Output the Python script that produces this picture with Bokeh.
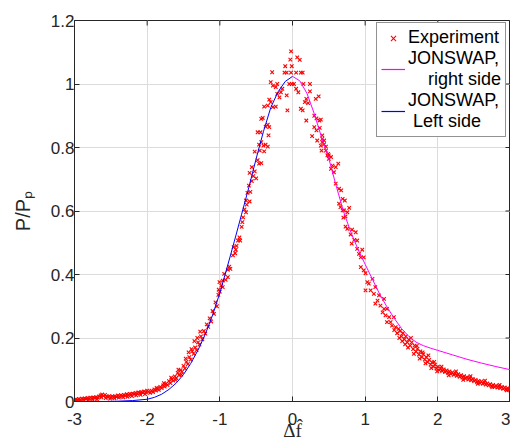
from bokeh.plotting import figure
from bokeh.models import FixedTicker, Legend, LegendItem, ColumnDataSource, Range1d
from bokeh.embed import file_html
from bokeh.resources import INLINE

# ---------------- data ----------------
x_ticks = [-3, -2, -1, 0, 1, 2, 3]
x_tick_labels = ["-3", "-2", "-1", "0", "1", "2", "3"]
y_ticks = [0, 0.2, 0.4, 0.6, 0.8, 1, 1.2]
y_tick_labels = ["0", "0.2", "0.4", "0.6", "0.8", "1", "1.2"]

# JONSWAP fit, left side (blue)
left_x = [-3.0, -2.8, -2.6, -2.4, -2.2, -2.0, -1.9, -1.8, -1.7, -1.6, -1.5, -1.4, -1.3,
          -1.2, -1.1, -1.0, -0.9, -0.8, -0.7, -0.6, -0.5, -0.4, -0.3, -0.2, -0.1, 0.0]
left_y = [0.000, 0.000, 0.000, 0.001, 0.003, 0.007, 0.013, 0.023, 0.038, 0.058, 0.085, 0.120, 0.162,
          0.212, 0.272, 0.342, 0.422, 0.505, 0.590, 0.675, 0.765, 0.850, 0.925, 0.975, 1.008, 1.024]

# JONSWAP fit, right side (magenta)
right_x = [0.0, 0.1, 0.2, 0.3, 0.4, 0.5, 0.6, 0.7, 0.8, 0.9, 1.0, 1.1, 1.2, 1.3, 1.4, 1.5,
           1.6, 1.7, 1.8, 1.9, 2.0, 2.2, 2.4, 2.6, 2.8, 3.0]
right_y = [1.024, 1.010, 0.970, 0.906, 0.832, 0.765, 0.680, 0.600, 0.535, 0.480, 0.432, 0.385,
           0.338, 0.298, 0.262, 0.230, 0.205, 0.187, 0.176, 0.168, 0.161, 0.147, 0.133, 0.121,
           0.110, 0.100]

# Experiment (x, P/Pp) pairs, by region
exp_left_tail = [
    (-3.00, 0.004), (-2.98, 0.007), (-2.96, 0.005), (-2.94, 0.008), (-2.92, 0.006), (-2.90, 0.009),
    (-2.88, 0.007), (-2.86, 0.010), (-2.84, 0.008), (-2.82, 0.011), (-2.80, 0.009), (-2.78, 0.012),
    (-2.76, 0.010), (-2.74, 0.013), (-2.72, 0.011), (-2.70, 0.014), (-2.68, 0.012), (-2.66, 0.016),
    (-2.64, 0.019), (-2.62, 0.022), (-2.60, 0.018), (-2.58, 0.021), (-2.56, 0.016), (-2.54, 0.014),
    (-2.52, 0.017), (-2.50, 0.013), (-2.48, 0.016), (-2.46, 0.014), (-2.44, 0.017), (-2.42, 0.015),
    (-2.40, 0.019), (-2.38, 0.016), (-2.36, 0.020), (-2.34, 0.018), (-2.32, 0.021), (-2.30, 0.019),
    (-2.28, 0.023), (-2.26, 0.020), (-2.24, 0.024), (-2.22, 0.022), (-2.20, 0.025), (-2.18, 0.023),
    (-2.16, 0.027), (-2.14, 0.025), (-2.12, 0.029), (-2.10, 0.026), (-2.08, 0.030), (-2.06, 0.028),
    (-2.04, 0.032), (-2.02, 0.029), (-2.00, 0.034),
    (-2.99, 0.002), (-2.93, 0.003), (-2.87, 0.004), (-2.81, 0.005), (-2.75, 0.006), (-2.69, 0.007),
    (-2.63, 0.013), (-2.57, 0.011), (-2.51, 0.009), (-2.45, 0.010), (-2.39, 0.012), (-2.33, 0.013),
    (-2.27, 0.015), (-2.21, 0.017), (-2.15, 0.019), (-2.09, 0.021), (-2.03, 0.023),
]
exp_left_rise = [
    (-1.98, 0.031), (-1.96, 0.027), (-1.94, 0.034), (-1.92, 0.030), (-1.90, 0.038), (-1.88, 0.034),
    (-1.86, 0.041), (-1.84, 0.037), (-1.82, 0.046), (-1.80, 0.042), (-1.78, 0.051), (-1.76, 0.047),
    (-1.74, 0.056), (-1.72, 0.052), (-1.70, 0.064), (-1.68, 0.058), (-1.66, 0.070), (-1.64, 0.066),
    (-1.62, 0.079), (-1.60, 0.074), (-1.58, 0.090), (-1.56, 0.083), (-1.54, 0.099), (-1.52, 0.094),
    (-1.50, 0.112), (-1.48, 0.104), (-1.46, 0.125), (-1.44, 0.118), (-1.42, 0.140), (-1.40, 0.132),
    (-1.38, 0.158), (-1.36, 0.150), (-1.34, 0.170), (-1.32, 0.162), (-1.30, 0.186), (-1.28, 0.179),
    (-1.26, 0.205), (-1.24, 0.196), (-1.22, 0.222), (-1.20, 0.214), (-1.18, 0.243), (-1.16, 0.235),
    (-1.14, 0.262), (-1.12, 0.252), (-1.10, 0.285), (-1.08, 0.276), (-1.06, 0.312), (-1.04, 0.300),
    (-1.02, 0.336), (-1.00, 0.346),
    (-1.47, 0.135), (-1.43, 0.155), (-1.39, 0.165), (-1.35, 0.190), (-1.31, 0.200), (-1.27, 0.220),
    (-1.57, 0.100), (-1.67, 0.075), (-1.77, 0.058), (-1.87, 0.043), (-1.53, 0.085), (-1.61, 0.068),
]
exp_left_branch = [
    (-1.015, 0.352), (-1.005, 0.376), (-0.98, 0.365), (-0.96, 0.360), (-0.96, 0.381), (-0.94, 0.402),
    (-0.92, 0.383), (-0.89, 0.392), (-0.89, 0.415), (-0.87, 0.425), (-0.855, 0.418), (-0.82, 0.460),
    (-0.81, 0.486), (-0.79, 0.467), (-0.78, 0.478), (-0.75, 0.507), (-0.73, 0.517), (-0.72, 0.507),
    (-0.69, 0.565), (-0.66, 0.605), (-0.64, 0.596), (-0.64, 0.633), (-0.62, 0.657), (-0.59, 0.630),
    (-0.60, 0.680), (-0.56, 0.694), (-0.50, 0.703), (-0.59, 0.720), (-0.52, 0.725), (-0.56, 0.738),
    (-0.46, 0.749), (-0.43, 0.751), (-0.52, 0.787), (-0.39, 0.788), (-0.37, 0.809), (-0.46, 0.809),
    (-0.40, 0.806), (-0.43, 0.817), (-0.34, 0.803),
    (-0.77, 0.490), (-0.70, 0.550), (-0.68, 0.580), (-0.63, 0.620), (-0.58, 0.660), (-0.54, 0.710),
    (-0.48, 0.760), (-0.45, 0.790),
]
exp_peak = [
    (-0.48, 0.848), (-0.44, 0.848), (-0.33, 0.838), (-0.41, 0.893), (-0.43, 0.890), (-0.34, 0.872),
    (-0.37, 0.866), (-0.32, 0.864), (-0.39, 0.929), (-0.32, 0.951), (-0.30, 0.943), (-0.34, 0.932),
    (-0.23, 0.929), (-0.27, 0.927), (-0.07, 0.917), (-0.14, 0.985), (-0.16, 0.974), (-0.08, 0.964),
    (-0.18, 0.958), (-0.21, 0.969), (-0.21, 1.000), (-0.23, 0.990), (-0.30, 1.006), (-0.27, 0.995),
    (-0.045, 1.000), (-0.01, 1.000), (0.02, 1.000), (-0.28, 1.037), (-0.11, 1.036), (-0.08, 1.036),
    (-0.02, 1.036), (0.05, 1.036), (0.115, 1.036), (0.14, 1.036), (-0.10, 1.056), (-0.01, 1.056),
    (-0.02, 1.103), (-0.03, 1.077), (0.065, 1.084), (0.10, 1.076), (0.15, 1.000), (0.24, 1.000),
    (0.05, 0.985), (0.08, 0.974), (0.24, 0.977), (0.19, 0.953), (0.17, 0.943), (0.215, 0.940),
    (0.36, 0.961), (0.32, 0.953), (0.115, 0.922), (0.14, 0.917), (0.19, 0.885), (0.30, 0.900),
    (0.33, 0.892), (0.37, 0.885), (0.39, 0.888), (0.30, 0.864), (0.33, 0.854), (0.375, 0.862),
    (0.41, 0.838), (0.435, 0.822), (0.27, 0.836), (0.34, 0.822), (0.39, 0.806), (0.46, 0.790),
    (0.50, 0.775),
]
exp_right_branch = [
    (0.41, 0.817), (0.46, 0.803), (0.49, 0.780), (0.53, 0.770), (0.55, 0.743), (0.595, 0.738),
    (0.63, 0.749), (0.57, 0.722), (0.595, 0.686), (0.64, 0.670), (0.67, 0.665), (0.64, 0.623),
    (0.66, 0.612), (0.71, 0.602), (0.73, 0.551), (0.755, 0.544), (0.41, 0.827), (0.435, 0.810),
    (0.40, 0.790), (0.48, 0.775), (0.50, 0.764), (0.53, 0.733), (0.69, 0.638), (0.72, 0.633),
    (0.69, 0.602), (0.755, 0.596), (0.78, 0.610), (0.73, 0.583), (0.70, 0.579), (0.82, 0.541),
    (0.87, 0.533), (0.85, 0.509), (0.80, 0.526), (0.815, 0.497), (0.89, 0.507), (0.89, 0.481),
    (0.96, 0.478), (0.915, 0.465), (0.94, 0.454), (0.98, 0.454), (0.94, 0.423), (0.98, 0.413),
    (1.005, 0.404), (1.03, 0.376), (1.05, 0.371), (1.10, 0.386), (1.005, 0.350), (1.075, 0.350),
    (1.14, 0.360), (1.12, 0.339), (1.19, 0.334), (1.17, 0.318), (1.26, 0.323), (1.14, 0.308),
    (1.21, 0.302), (1.26, 0.292), (1.30, 0.292), (1.24, 0.281), (1.28, 0.271), (1.33, 0.266),
    (1.30, 0.250), (1.35, 0.250), (1.395, 0.266), (1.37, 0.239), (1.42, 0.234), (1.46, 0.229),
]
exp_right_tail = [
    (1.48, 0.222), (1.50, 0.205), (1.52, 0.215), (1.54, 0.196), (1.56, 0.205), (1.58, 0.186),
    (1.60, 0.195), (1.62, 0.176), (1.64, 0.186), (1.66, 0.165), (1.68, 0.176), (1.70, 0.157),
    (1.72, 0.166), (1.74, 0.148), (1.76, 0.158), (1.78, 0.140), (1.80, 0.149), (1.82, 0.132),
    (1.84, 0.140), (1.86, 0.124), (1.88, 0.131), (1.90, 0.116), (1.92, 0.123), (1.94, 0.110),
    (1.96, 0.116), (1.98, 0.104), (2.00, 0.110), (2.02, 0.099), (2.04, 0.104), (2.06, 0.096),
    (2.08, 0.101), (2.10, 0.093), (2.12, 0.098), (2.14, 0.090), (2.16, 0.095), (2.18, 0.087),
    (2.20, 0.092), (2.22, 0.084), (2.24, 0.089), (2.26, 0.081), (2.28, 0.086), (2.30, 0.078),
    (2.32, 0.083), (2.34, 0.075), (2.36, 0.080), (2.38, 0.072), (2.40, 0.077), (2.42, 0.069),
    (2.44, 0.074), (2.46, 0.067), (2.48, 0.071), (2.50, 0.064), (2.52, 0.068), (2.54, 0.061),
    (2.56, 0.065), (2.58, 0.058), (2.60, 0.063), (2.62, 0.056), (2.64, 0.060), (2.66, 0.053),
    (2.68, 0.057), (2.70, 0.051), (2.72, 0.055), (2.74, 0.048), (2.76, 0.052), (2.78, 0.046),
    (2.80, 0.050), (2.82, 0.044), (2.84, 0.048), (2.86, 0.042), (2.88, 0.046), (2.90, 0.040),
    (2.92, 0.044), (2.94, 0.038), (2.96, 0.042), (2.98, 0.037), (3.00, 0.040),
    (1.51, 0.190), (1.55, 0.180), (1.59, 0.170), (1.63, 0.200), (1.67, 0.150), (1.71, 0.175),
    (1.75, 0.135), (1.79, 0.155), (1.83, 0.120), (1.87, 0.145), (1.91, 0.105), (1.95, 0.125),
    (1.99, 0.095), (2.05, 0.110), (2.15, 0.082), (2.25, 0.095), (2.35, 0.068), (2.45, 0.080),
    (2.55, 0.056), (2.65, 0.066), (2.75, 0.045), (2.85, 0.052), (2.95, 0.035), (1.44, 0.215),
    (1.47, 0.200), (1.40, 0.225),
]

# ---------------- figure ----------------
ink = "#262626"
X_RANGE = (-3, 3)
Y_RANGE = (0, 1.2)
W, H = 510, 446
B_LEFT, B_TOP, B_RIGHT, B_BOTTOM = 74, 20, 0, 45
TICK_PX = 5
NAN = float("nan")

exp_pts = exp_left_tail + exp_left_rise + exp_left_branch + exp_peak + exp_right_branch + exp_right_tail
src = ColumnDataSource(dict(x=[q[0] for q in exp_pts], y=[q[1] for q in exp_pts]))

p = figure(width=W, height=H, x_range=Range1d(*X_RANGE), y_range=Range1d(*Y_RANGE),
           output_backend="svg", toolbar_location=None,
           min_border_left=B_LEFT, min_border_right=B_RIGHT,
           min_border_top=B_TOP, min_border_bottom=B_BOTTOM)
p.background_fill_color = "white"
p.border_fill_color = "white"
p.outline_line_color = ink
p.outline_line_width = 1

xax = p.xaxis[0]
yax = p.yaxis[0]
for ax, ticks, labels in ((xax, x_ticks, x_tick_labels), (yax, y_ticks, y_tick_labels)):
    ax.ticker = FixedTicker(ticks=ticks)
    ax.major_label_overrides = {t: l for t, l in zip(ticks, labels)}
    ax.major_tick_in = TICK_PX
    ax.major_tick_out = 0
    ax.minor_tick_in = 0
    ax.minor_tick_out = 0
    ax.axis_line_color = ink
    ax.major_tick_line_color = ink
    ax.major_label_text_color = ink
    ax.major_label_text_font = "Liberation Sans"
    ax.major_label_text_font_size = "17px"
xax.major_label_standoff = 11
yax.major_label_standoff = 0

xax.axis_label = "\u0394f\u0302"
xax.axis_label_text_font = "Liberation Serif"
xax.axis_label_text_font_size = "19px"
xax.axis_label_text_font_style = "normal"
xax.axis_label_text_color = ink
xax.axis_label_standoff = -8

yax.axis_label = "P/P\u209a"
yax.axis_label_text_font = "Liberation Sans"
yax.axis_label_text_font_size = "20px"
yax.axis_label_text_font_style = "normal"
yax.axis_label_text_color = ink
yax.axis_label_standoff = 14

for g in (p.xgrid[0], p.ygrid[0]):
    g.grid_line_color = "#dcdcdc"
    g.grid_line_width = 1

# inward tick marks on the top and right edges of the box (MATLAB "box on")
frame_w = W - B_LEFT - B_RIGHT
frame_h = H - B_TOP - B_BOTTOM
dy_tick = (Y_RANGE[1] - Y_RANGE[0]) * TICK_PX / frame_h
dx_tick = (X_RANGE[1] - X_RANGE[0]) * TICK_PX / frame_w
p.segment(x0=x_ticks, x1=x_ticks, y0=[Y_RANGE[1]] * len(x_ticks),
          y1=[Y_RANGE[1] - dy_tick] * len(x_ticks), line_color=ink, line_width=1)
p.segment(x0=[X_RANGE[1]] * len(y_ticks), x1=[X_RANGE[1] - dx_tick] * len(y_ticks),
          y0=y_ticks, y1=y_ticks, line_color=ink, line_width=1)

r_exp = p.scatter("x", "y", source=src, marker="x", size=5, line_color="#ff0000", line_width=1.1)
r_right = p.line(right_x, right_y, line_color="#ff00ff", line_width=1)
r_left = p.line(left_x, left_y, line_color="#0000ff", line_width=1)

# legend-only swatches (one empty row each, nothing is drawn in the plot)
leg_right = p.segment(x0=[NAN], y0=[NAN], x1=[NAN], y1=[NAN], line_color="#ff00ff", line_width=1.2)
leg_left = p.segment(x0=[NAN], y0=[NAN], x1=[NAN], y1=[NAN], line_color="#0000ff", line_width=1.2)

legend = Legend(items=[
    LegendItem(label="Experiment", renderers=[r_exp]),
    LegendItem(label="JONSWAP,\n    right side", renderers=[leg_right]),
    LegendItem(label="JONSWAP,\n Left side", renderers=[leg_left]),
], location=(302, 264))
legend.label_text_font = "Liberation Sans"
legend.label_text_font_size = "18px"
legend.label_text_color = "#000000"
legend.label_text_line_height = 1.1
legend.glyph_width = 24
legend.glyph_height = 18
legend.label_standoff = 3
legend.padding = 4
legend.spacing = 0
legend.margin = 0
legend.border_line_color = ink
legend.border_line_width = 1
legend.background_fill_color = "white"
legend.background_fill_alpha = 1
p.add_layout(legend)

open("out.html", "w").write(file_html(p, INLINE))
